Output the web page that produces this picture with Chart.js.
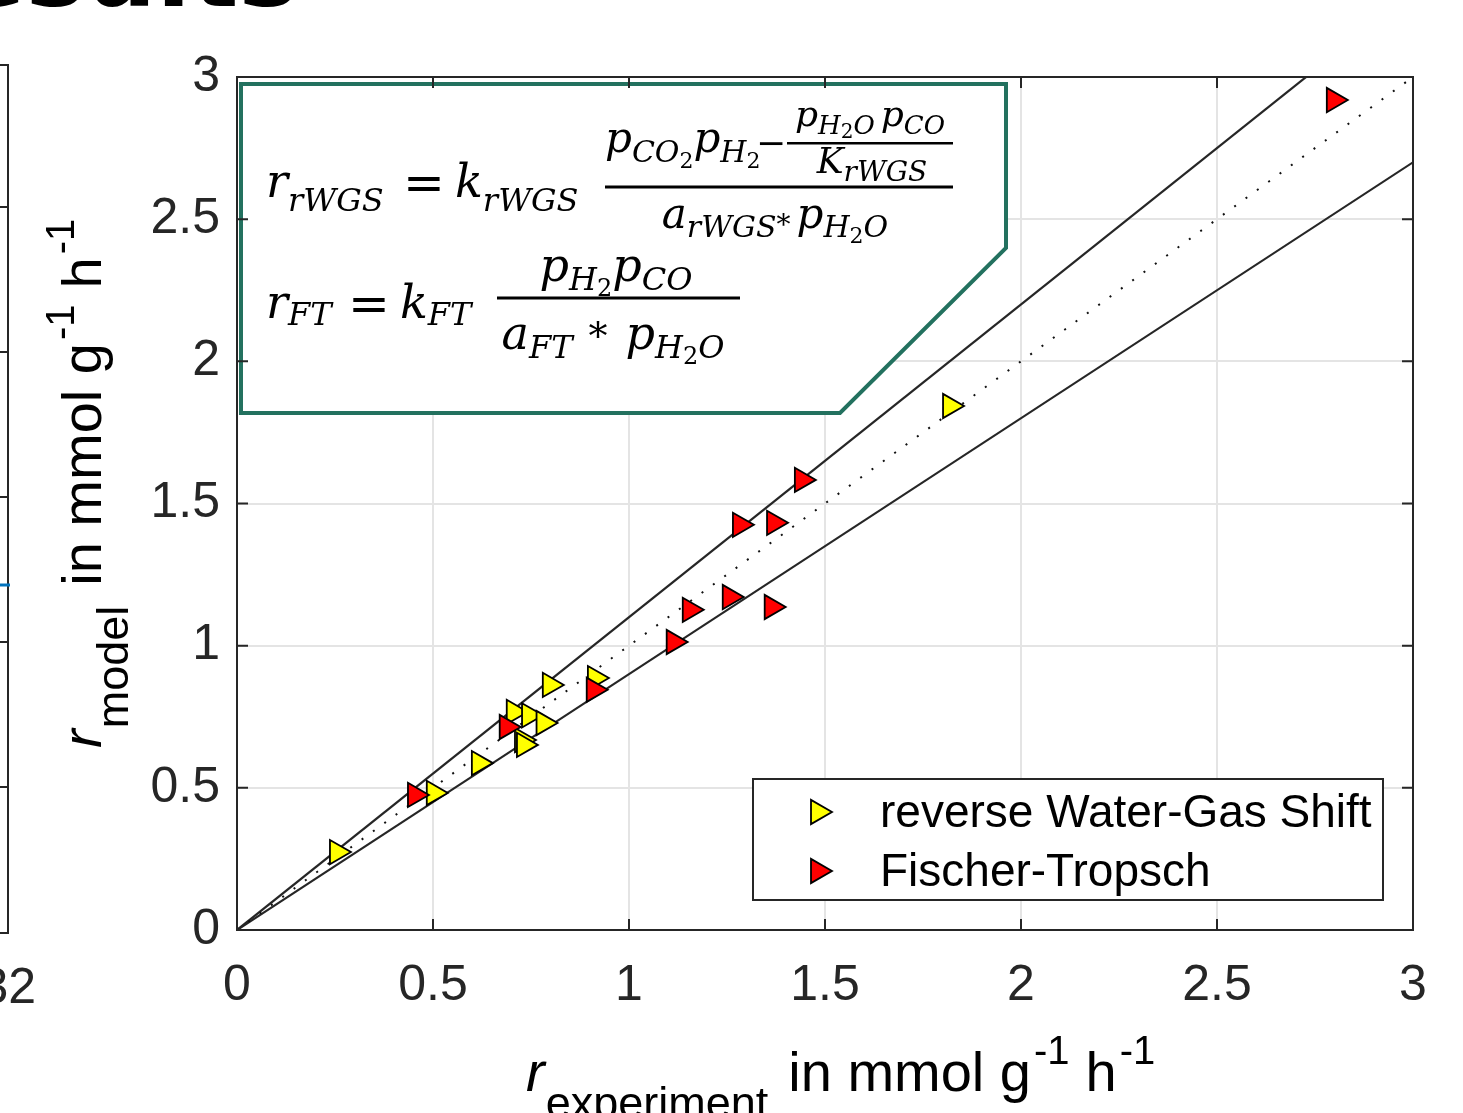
<!DOCTYPE html>
<html>
<head>
<meta charset="utf-8">
<script src="https://cdn.jsdelivr.net/npm/chart.js@4.4.1/dist/chart.umd.min.js"></script>
<style>
  html, body { margin: 0; padding: 0; background: #fff; }
  #wrap { width: 1463px; height: 1113px; position: relative; }
</style>
</head>
<body>
<div id="wrap"><canvas id="parity"></canvas></div>
<script>
// measured vs. modelled rates, mmol g^-1 h^-1
const rwgsExp   = [0.255, 0.502, 0.617, 0.706, 0.727, 0.732, 0.745, 0.782, 0.798, 0.913, 1.819];
const rwgsModel = [0.274, 0.482, 0.587, 0.767, 0.668, 0.651, 0.755, 0.728, 0.862, 0.886, 1.843];
const ftExp     = [0.454, 0.688, 0.910, 1.114, 1.155, 1.257, 1.283, 1.364, 1.370, 1.441, 2.798];
const ftModel   = [0.475, 0.714, 0.845, 1.013, 1.126, 1.171, 1.425, 1.136, 1.432, 1.583, 2.919];

// parity line and +/-10 % band
const refX    = [0, 3];
const parityY = [0, 3];
const upperY  = [0, 3.3];
const lowerY  = [0, 2.7];

const tickValues = [0, 0.5, 1, 1.5, 2, 2.5, 3];
const seriesNames = ['reverse Water-Gas Shift', 'Fischer-Tropsch'];
const seriesColors = ['#ffff00', '#ff0000'];

const toPoints = (xs, ys) => xs.map((x, i) => ({ x: x, y: ys[i] }));

const SANS = '"Liberation Sans", Arial, sans-serif';
const SERIF = '"DejaVu Serif", serif';
const AXIS = '#262626';

// draw a run of text pieces one after another along the baseline
function seq(ctx, x, y, parts, family) {
  parts.forEach(p => {
    ctx.font = (p.i ? 'italic ' : '') + p.s + 'px ' + family;
    ctx.fillText(p.t, x, y + (p.dy || 0));
    x += ctx.measureText(p.t).width + (p.g || 0);
  });
  return x;
}
function seqWidth(ctx, parts, family) {
  let w = 0;
  parts.forEach(p => {
    ctx.font = (p.i ? 'italic ' : '') + p.s + 'px ' + family;
    w += ctx.measureText(p.t).width + (p.g || 0);
  });
  return w;
}
function seqCentered(ctx, cx, y, parts, family) {
  return seq(ctx, cx - seqWidth(ctx, parts, family) / 2, y, parts, family);
}

function triangle(ctx, cx, cy, r) {
  ctx.beginPath();
  ctx.moveTo(cx + r, cy);
  ctx.lineTo(cx - r / 2, cy - r * 0.866);
  ctx.lineTo(cx - r / 2, cy + r * 0.866);
  ctx.closePath();
  ctx.fill();
  ctx.stroke();
}

function drawFormulaBox(ctx) {
  ctx.save();
  ctx.beginPath();
  ctx.moveTo(241, 84);
  ctx.lineTo(1006, 84);
  ctx.lineTo(1006, 248);
  ctx.lineTo(840, 413);
  ctx.lineTo(241, 413);
  ctx.closePath();
  ctx.fillStyle = '#ffffff';
  ctx.fill();
  ctx.lineWidth = 4;
  ctx.strokeStyle = '#23715f';
  ctx.stroke();

  ctx.fillStyle = '#000';
  ctx.textBaseline = 'alphabetic';
  ctx.textAlign = 'left';
  const M = 46, S = 32;

  // r_rWGS = k_rWGS ( ... )
  seq(ctx, 266, 197, [{ t: 'r', s: M, i: 1 }, { t: 'rWGS', s: S, i: 1, dy: 14 }], SERIF);
  seq(ctx, 403, 200, [{ t: '=', s: 50 }], SERIF);
  seq(ctx, 455, 197, [{ t: 'k', s: M, i: 1 }, { t: 'rWGS', s: S, i: 1, dy: 14 }], SERIF);
  ctx.fillRect(605, 185.5, 348, 3);
  seq(ctx, 605, 152, [
    { t: 'p', s: 42, i: 1 }, { t: 'CO', s: 30, i: 1, dy: 10 }, { t: '2', s: 22, dy: 16 },
    { t: 'p', s: 42, i: 1 }, { t: 'H', s: 30, i: 1, dy: 10 }, { t: '2', s: 22, dy: 16 }
  ], SERIF);
  seq(ctx, 756, 155, [{ t: '\u2212', s: 36 }], SERIF);
  ctx.fillRect(787, 142, 166, 2.5);
  seqCentered(ctx, 870, 126, [
    { t: 'p', s: 36, i: 1 }, { t: 'H', s: 26, i: 1, dy: 8 }, { t: '2', s: 20, dy: 12 },
    { t: 'O', s: 26, i: 1, dy: 8, g: 6 }, { t: 'p', s: 36, i: 1 }, { t: 'CO', s: 26, i: 1, dy: 8 }
  ], SERIF);
  seqCentered(ctx, 872, 173, [{ t: 'K', s: 36, i: 1 }, { t: 'rWGS', s: 28, i: 1, dy: 8 }], SERIF);
  seqCentered(ctx, 775, 228, [
    { t: 'a', s: 42, i: 1 }, { t: 'rWGS', s: 30, i: 1, dy: 9 }, { t: '*', s: 28, dy: 6, g: 6 },
    { t: 'p', s: 42, i: 1 }, { t: 'H', s: 30, i: 1, dy: 9 }, { t: '2', s: 22, dy: 15 }, { t: 'O', s: 30, i: 1, dy: 9 }
  ], SERIF);

  // r_FT = k_FT ( ... )
  seq(ctx, 266, 318, [{ t: 'r', s: M, i: 1 }, { t: 'FT', s: S, i: 1, dy: 7 }], SERIF);
  seq(ctx, 348, 321, [{ t: '=', s: 50 }], SERIF);
  seq(ctx, 400, 318, [{ t: 'k', s: M, i: 1 }, { t: 'FT', s: S, i: 1, dy: 7 }], SERIF);
  ctx.fillRect(497, 296.5, 243, 3);
  seqCentered(ctx, 616, 281, [
    { t: 'p', s: M, i: 1 }, { t: 'H', s: S, i: 1, dy: 9 }, { t: '2', s: 24, dy: 15 },
    { t: 'p', s: M, i: 1 }, { t: 'CO', s: S, i: 1, dy: 9 }
  ], SERIF);
  seqCentered(ctx, 613, 349, [
    { t: 'a', s: M, i: 1 }, { t: 'FT', s: S, i: 1, dy: 9, g: 16 }, { t: '*', s: 38, g: 18 },
    { t: 'p', s: M, i: 1 }, { t: 'H', s: S, i: 1, dy: 9 }, { t: '2', s: 24, dy: 15 }, { t: 'O', s: S, i: 1, dy: 9 }
  ], SERIF);
  ctx.restore();
}

function drawLegend(ctx, chart) {
  ctx.save();
  ctx.fillStyle = '#fff';
  ctx.fillRect(753, 779, 630, 121);
  ctx.strokeStyle = AXIS;
  ctx.lineWidth = 2;
  ctx.strokeRect(753, 779, 630, 121);
  const rows = [812, 871];
  ctx.font = '46px ' + SANS;
  ctx.textBaseline = 'middle';
  ctx.textAlign = 'left';
  seriesNames.forEach((name, i) => {
    ctx.fillStyle = seriesColors[i];
    ctx.strokeStyle = '#000';
    ctx.lineWidth = 1.8;
    triangle(ctx, 818, rows[i], 14);
    ctx.fillStyle = '#000';
    ctx.fillText(name, 880, rows[i] + 2);
  });
  ctx.restore();
}

function drawFrame(ctx, chart) {
  const ca = chart.chartArea, xs = chart.scales.x, ys = chart.scales.y;
  ctx.save();
  ctx.strokeStyle = AXIS;
  ctx.lineWidth = 2;
  ctx.strokeRect(ca.left, ca.top, ca.right - ca.left, ca.bottom - ca.top);
  ctx.beginPath();
  tickValues.forEach(v => {
    const px = xs.getPixelForValue(v), py = ys.getPixelForValue(v);
    ctx.moveTo(px, ca.bottom); ctx.lineTo(px, ca.bottom - 11);
    ctx.moveTo(px, ca.top); ctx.lineTo(px, ca.top + 11);
    ctx.moveTo(ca.left, py); ctx.lineTo(ca.left + 11, py);
    ctx.moveTo(ca.right, py); ctx.lineTo(ca.right - 11, py);
  });
  ctx.stroke();
  ctx.restore();
}

function drawAxisTitles(ctx, chart) {
  const parts = [
    { t: 'r', s: 56, i: 1, g: 1 },
    { t: 'model', s: 45, dy: 27, g: 20, sub: 1 },
    { t: 'in mmol g', s: 56, g: 3 },
    { t: '-1', s: 40, dy: -27, g: 16 },
    { t: 'h', s: 56, g: 3 },
    { t: '-1', s: 40, dy: -27 }
  ];
  ctx.save();
  ctx.fillStyle = '#000';
  ctx.textBaseline = 'alphabetic';
  ctx.textAlign = 'left';
  const xParts = parts.map(p => p.sub ? Object.assign({}, p, { t: 'experiment' }) : p);
  seq(ctx, 526, 1091, xParts, SANS);
  ctx.translate(101, 748);
  ctx.rotate(-Math.PI / 2);
  seq(ctx, 0, 0, parts, SANS);
  ctx.restore();
}

function drawSurroundings(ctx) {
  ctx.save();
  // edge of the neighbouring panel
  ctx.strokeStyle = AXIS;
  ctx.lineWidth = 2;
  ctx.beginPath();
  ctx.moveTo(0, 65); ctx.lineTo(8, 65); ctx.lineTo(8, 933); ctx.lineTo(0, 933);
  [207, 352, 497, 642, 787].forEach(y => { ctx.moveTo(0, y); ctx.lineTo(8, y); });
  ctx.stroke();
  ctx.strokeStyle = '#0072bd';
  ctx.lineWidth = 3;
  ctx.beginPath();
  ctx.moveTo(0, 585); ctx.lineTo(10, 585);
  ctx.stroke();
  ctx.fillStyle = AXIS;
  ctx.font = '50px ' + SANS;
  ctx.textAlign = 'right';
  ctx.textBaseline = 'alphabetic';
  ctx.fillText('32', 36, 1003);
  // slide heading, mostly outside the crop
  ctx.fillStyle = '#000';
  ctx.font = 'bold 100px "DejaVu Sans", sans-serif';
  ctx.fillText('Results', 298, 6);
  ctx.restore();
}

const decorations = {
  id: 'decorations',
  afterDatasetsDraw(chart) {
    const ctx = chart.ctx;
    drawFormulaBox(ctx);
    drawLegend(ctx, chart);
    drawFrame(ctx, chart);
  },
  afterDraw(chart) {
    drawAxisTitles(chart.ctx, chart);
    drawSurroundings(chart.ctx);
  }
};

const markerStyle = {
  pointStyle: 'triangle',
  rotation: 90,
  radius: 14,
  borderColor: '#000',
  borderWidth: 1.8,
  showLine: false
};

const tickLabel = v => String(Number(v.toFixed(2)));

new Chart(document.getElementById('parity'), {
  type: 'scatter',
  data: {
    datasets: [
      Object.assign({ label: seriesNames[0], data: toPoints(rwgsExp, rwgsModel), backgroundColor: seriesColors[0], order: 1 }, markerStyle),
      Object.assign({ label: seriesNames[1], data: toPoints(ftExp, ftModel), backgroundColor: seriesColors[1], order: 0 }, markerStyle),
      { label: 'parity', data: toPoints(refX, parityY), showLine: true, pointRadius: 0, borderColor: '#111', borderWidth: 2, borderDash: [2, 12], order: 2 },
      { label: '+10 %', data: toPoints(refX, upperY), showLine: true, pointRadius: 0, borderColor: '#262626', borderWidth: 2.2, order: 2 },
      { label: '-10 %', data: toPoints(refX, lowerY), showLine: true, pointRadius: 0, borderColor: '#262626', borderWidth: 2.2, order: 2 }
    ]
  },
  options: {
    responsive: true,
    maintainAspectRatio: false,
    animation: false,
    layout: { autoPadding: false, padding: { top: 77, right: 50, left: 0, bottom: 0 } },
    plugins: {
      legend: { display: false },
      tooltip: { enabled: false }
    },
    scales: {
      x: {
        type: 'linear',
        min: 0, max: 3,
        ticks: { stepSize: 0.5, maxRotation: 0, padding: 26, color: AXIS, font: { family: SANS, size: 50 }, callback: tickLabel },
        grid: { color: '#e4e4e4', lineWidth: 2, drawTicks: false },
        border: { display: false },
        afterFit(scale) { scale.height = 183; }
      },
      y: {
        type: 'linear',
        min: 0, max: 3,
        ticks: { stepSize: 0.5, padding: 17, color: AXIS, font: { family: SANS, size: 50 }, callback: tickLabel },
        grid: { color: '#e4e4e4', lineWidth: 2, drawTicks: false },
        border: { display: false },
        afterFit(scale) { scale.width = 237; }
      }
    }
  },
  plugins: [decorations]
});
</script>
</body>
</html>
